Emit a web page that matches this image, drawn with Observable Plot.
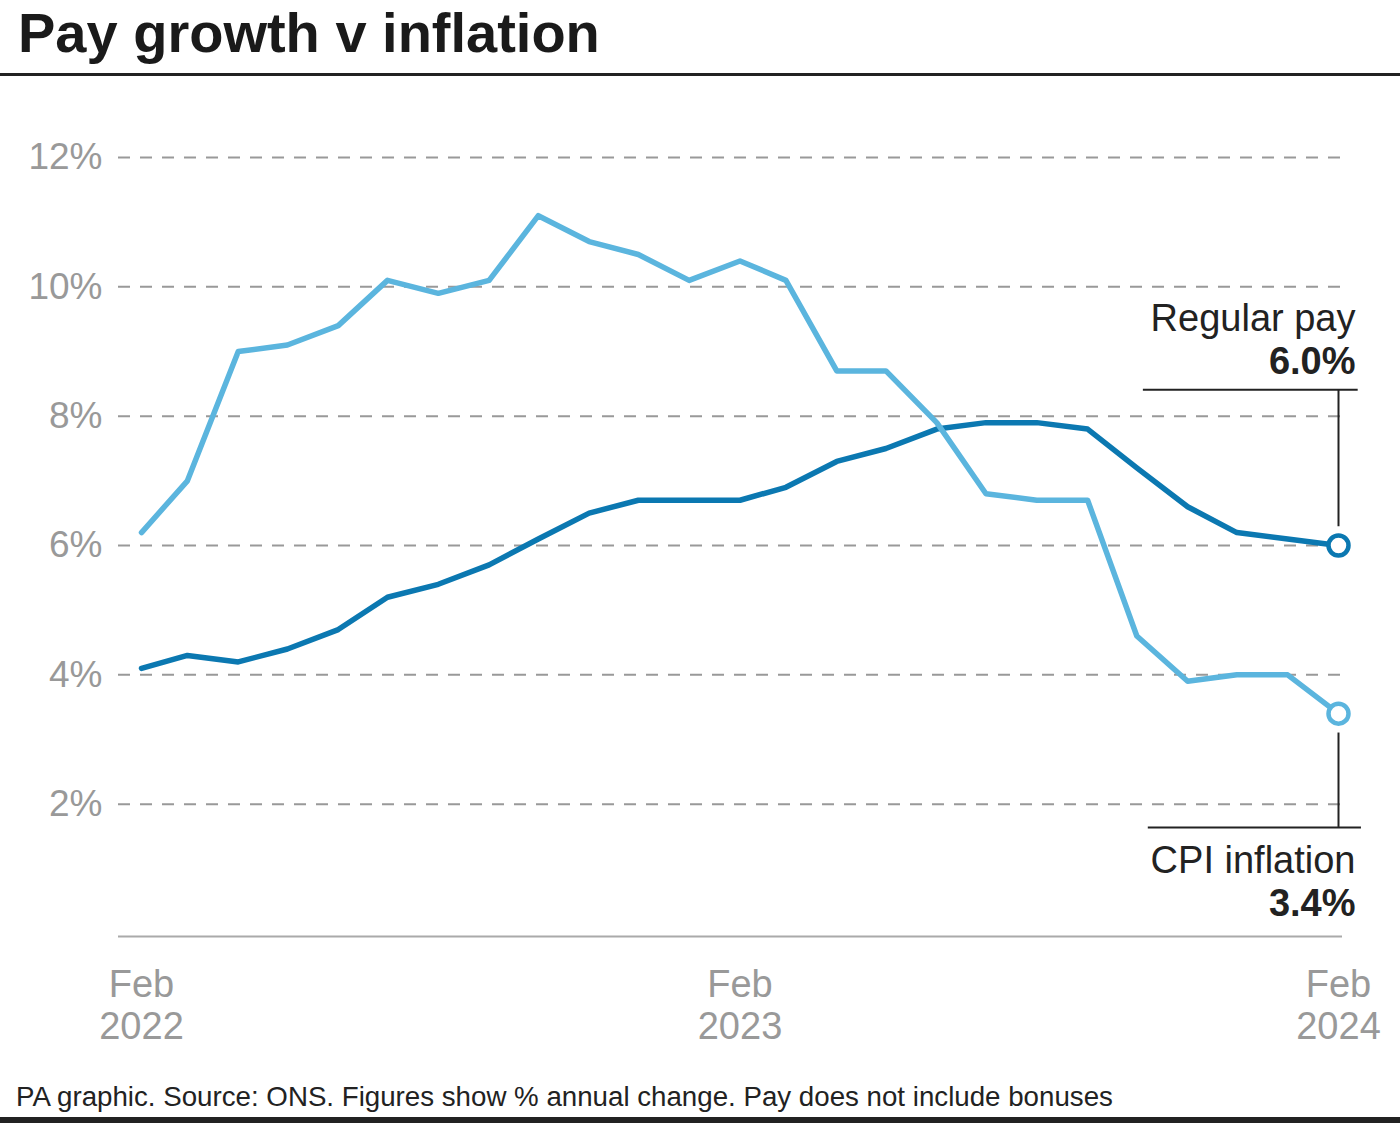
<!DOCTYPE html>
<html>
<head>
<meta charset="utf-8">
<script src="https://cdn.jsdelivr.net/npm/d3@7"></script>
<script src="https://cdn.jsdelivr.net/npm/@observablehq/plot@0.6"></script>
<style>
  html, body { margin: 0; padding: 0; background: #fff; }
  #wrap { position: relative; width: 1400px; height: 1123px; overflow: hidden; font-family: "Liberation Sans", Arial, sans-serif; }
  #title { position: absolute; left: 18px; top: 5px; font-size: 56px; line-height: 56px; font-weight: bold; color: #1a1a1a; white-space: nowrap; }
  #rule { position: absolute; left: 0; top: 73px; width: 1400px; height: 3px; background: #222; }
  #chart { position: absolute; left: 0; top: 80px; }
  #footer { position: absolute; left: 16px; top: 1083px; font-size: 27.7px; line-height: 27px; color: #222; white-space: nowrap; }
  #bar { position: absolute; left: 0; top: 1117px; width: 1400px; height: 6px; background: #222; }
</style>
</head>
<body>
<div id="wrap">
  <div id="title">Pay growth v inflation</div>
  <div id="rule"></div>
  <div id="chart"></div>
  <div id="footer">PA graphic. Source: ONS. Figures show % annual change. Pay does not include bonuses</div>
  <div id="bar"></div>
</div>
<script>
const months = [
  "2022-02","2022-03","2022-04","2022-05","2022-06","2022-07","2022-08","2022-09","2022-10","2022-11","2022-12",
  "2023-01","2023-02","2023-03","2023-04","2023-05","2023-06","2023-07","2023-08","2023-09","2023-10","2023-11","2023-12",
  "2024-01","2024-02"
];
const cpiInflation = [6.2, 7.0, 9.0, 9.1, 9.4, 10.1, 9.9, 10.1, 11.1, 10.7, 10.5,
  10.1, 10.4, 10.1, 8.7, 8.7, 7.9, 6.8, 6.7, 6.7, 4.6, 3.9, 4.0, 4.0, 3.4];
const regularPay = [4.1, 4.3, 4.2, 4.4, 4.7, 5.2, 5.4, 5.7, 6.1, 6.5, 6.7,
  6.7, 6.7, 6.9, 7.3, 7.5, 7.8, 7.9, 7.9, 7.8, 7.2, 6.6, 6.2, 6.1, 6.0];
const yTicks = [2, 4, 6, 8, 10, 12];
const xTicks = ["2022-02", "2023-02", "2024-02"];
const seriesNames = ["Regular pay", "CPI inflation"];

const parse = s => { const [y, m] = s.split("-").map(Number); return new Date(Date.UTC(y, m - 1, 1)); };
const dates = months.map(parse);
const payData = dates.map((d, i) => ({date: d, value: regularPay[i]}));
const cpiData = dates.map((d, i) => ({date: d, value: cpiInflation[i]}));
const lastPay = payData[payData.length - 1];
const lastCpi = cpiData[cpiData.length - 1];

const darkBlue = "#0b78b1";
const lightBlue = "#5bb5de";
const ink = "#222";
const grey = "#999";

// annotation leader extents (in days relative to the last date)
const dayMs = 86400000;
const lastDate = lastPay.date;
const off = (days) => new Date(+lastDate + days * dayMs);

const plot = Plot.plot({
  width: 1400,
  height: 960,
  marginTop: 77,
  marginBottom: 107,
  marginLeft: 118,
  marginRight: 58,
  insetLeft: 23,
  insetRight: 4,
  style: {fontFamily: "'Liberation Sans', Arial, sans-serif", background: "transparent", overflow: "visible"},
  x: {type: "utc", domain: [dates[0], dates[dates.length - 1]]},
  y: {domain: [0, 12]},
  marks: [
    Plot.ruleY(yTicks, {stroke: grey, strokeWidth: 2, strokeDasharray: "12,10"}),
    Plot.ruleY([0], {stroke: "#aaa", strokeWidth: 2, dy: 3}),
    Plot.axisY(yTicks, {tickSize: 0, tickPadding: 16, fontSize: 37, fill: grey, tickFormat: d => d + "%", label: null}),
    Plot.axisX(xTicks.map(parse), {tickSize: 0, tickPadding: 34, fontSize: 38, fill: grey, lineHeight: 1.1,
      tickFormat: d => d3.utcFormat("%b")(d) + "\n" + d.getUTCFullYear(), label: null}),
    // annotation leaders
    Plot.ruleY([{y: lastPay.value + 2.41}], {y: "y", x1: off(-119), x2: off(12), stroke: ink, strokeWidth: 2}),
    Plot.ruleX([lastPay], {x: "date", y1: d => d.value + 0.29, y2: d => d.value + 2.41, stroke: ink, strokeWidth: 2}),
    Plot.ruleY([{y: lastCpi.value - 1.76}], {y: "y", x1: off(-116), x2: off(14), stroke: ink, strokeWidth: 2}),
    Plot.ruleX([lastCpi], {x: "date", y1: d => d.value - 0.3, y2: d => d.value - 1.76, stroke: ink, strokeWidth: 2}),
    // lines
    Plot.line(payData, {x: "date", y: "value", stroke: darkBlue, strokeWidth: 5.5}),
    Plot.line(cpiData, {x: "date", y: "value", stroke: lightBlue, strokeWidth: 5.5}),
    Plot.dot([lastPay], {x: "date", y: "value", r: 10, fill: "white", stroke: darkBlue, strokeWidth: 4.5}),
    Plot.dot([lastCpi], {x: "date", y: "value", r: 10, fill: "white", stroke: lightBlue, strokeWidth: 4.5}),
    // labels
    Plot.text([lastPay], {x: "date", y: "value", text: () => seriesNames[0], textAnchor: "end", lineAnchor: "bottom", dx: 17, dy: -215, fontSize: 38, fill: ink}),
    Plot.text([lastPay], {x: "date", y: "value", text: d => d.value.toFixed(1) + "%", textAnchor: "end", lineAnchor: "bottom", dx: 17, dy: -172, fontSize: 38, fontWeight: "bold", fill: ink}),
    Plot.text([lastCpi], {x: "date", y: "value", text: () => seriesNames[1], textAnchor: "end", lineAnchor: "bottom", dx: 17, dy: 159, fontSize: 38, fill: ink}),
    Plot.text([lastCpi], {x: "date", y: "value", text: d => d.value.toFixed(1) + "%", textAnchor: "end", lineAnchor: "bottom", dx: 17, dy: 202, fontSize: 38, fontWeight: "bold", fill: ink})
  ]
});
document.getElementById("chart").appendChild(plot);
</script>
</body>
</html>
